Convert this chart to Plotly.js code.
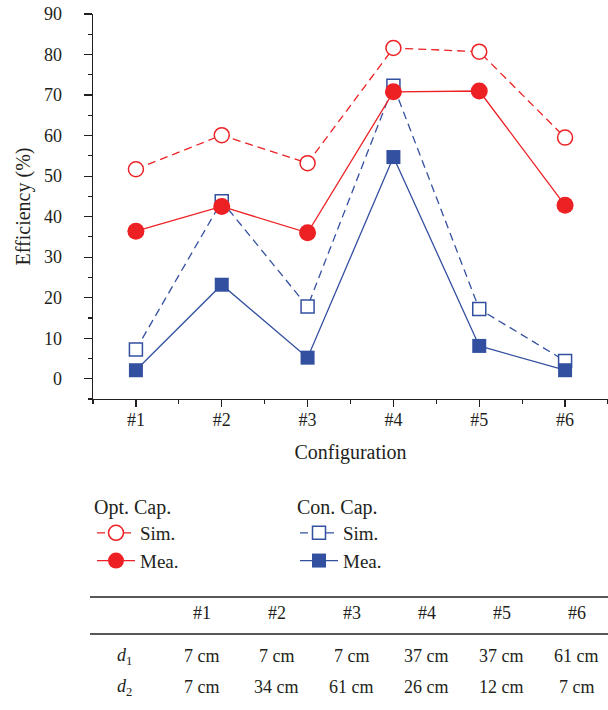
<!DOCTYPE html>
<html><head><meta charset="utf-8">
<script src="https://cdn.plot.ly/plotly-3.0.1.min.js"></script>
<style>html,body{margin:0;padding:0;background:#fff}</style>
</head><body><div id="chart" style="width:608px;height:710px"></div>
<script>
// ---- data ----
const configs = ['#1', '#2', '#3', '#4', '#5', '#6'];
const xPos = [1, 2, 3, 4, 5, 6];
const optSim = [51.7, 60.1, 53.2, 81.6, 80.7, 59.5];
const optMea = [36.4, 42.5, 36.0, 70.8, 71.0, 42.8];
const conSim = [7.2, 43.8, 17.8, 72.3, 17.2, 4.4];
const conMea = [2.1, 23.2, 5.2, 54.7, 8.1, 2.1];
const d1 = [7, 7, 7, 37, 37, 61];
const d2 = [7, 34, 61, 26, 12, 7];
const rowLabels = ['<i>d</i><sub>1</sub>', '<i>d</i><sub>2</sub>'];
const legendNames = ['Sim.', 'Mea.'];
const groupTitles = ['Opt. Cap.', 'Con. Cap.'];

// ---- style ----
const RED = '#ed2024';
const BLUE = '#3350a0';
const INK = '#231f20';
const FONT = 'Liberation Serif';
const W = 608, H = 710;
const px = v => v / W;
const py = v => (H - v) / H;
// table grid geometry (pixels)
const TBL = {left: 90, labelX: 124, col0X: 201.7, colPitch: 75, headY: 613, row0Y: 656, rowPitch: 31, rule1: 597, rule2: 634};

function series(y, color, dashed, filled, size, symbol, legendId, name, group) {
  return {
    type: 'scatter', mode: 'lines+markers', x: xPos, y: y, name: name,
    legend: legendId, legendgroup: group,
    line: {color: color, width: 1.3, dash: dashed ? '8px,5px' : 'solid'},
    marker: {symbol: symbol, size: size, color: filled ? color : '#ffffff',
             line: {color: color, width: filled ? 0 : 1.5}},
    hoverinfo: 'x+y'
  };
}

const traces = [
  series(conSim, BLUE, true, false, 13, 'square', 'legend2', legendNames[0], 'c1'),
  series(conMea, BLUE, false, true, 14, 'square', 'legend2', legendNames[1], 'c2'),
  series(optSim, RED, true, false, 15, 'circle', 'legend', legendNames[0], 'o1'),
  series(optMea, RED, false, true, 17, 'circle', 'legend', legendNames[1], 'o2')
];

// table as text annotations built from the data arrays
const tableFont = {family: FONT, size: 18, color: INK};
const annotations = [];
function cell(text, xpix, ypix) {
  annotations.push({xref: 'paper', yref: 'paper', x: px(xpix), y: py(ypix),
    xanchor: 'center', yanchor: 'middle', showarrow: false, text: text, font: tableFont});
}
configs.forEach((c, i) => cell(c, TBL.col0X + i * TBL.colPitch, TBL.headY));
[d1, d2].forEach((row, r) => {
  const y = TBL.row0Y + r * TBL.rowPitch;
  cell(rowLabels[r], TBL.labelX, y);
  row.forEach((v, i) => cell(v + ' cm', TBL.col0X + i * TBL.colPitch, y));
});

const axisCommon = {
  showline: true, linecolor: INK, linewidth: 1.3, showgrid: false, zeroline: false,
  ticks: 'outside', ticklen: 8, tickwidth: 1.2, tickcolor: INK, automargin: false,
  tickfont: {family: FONT, size: 18, color: INK}
};

const legendCommon = {
  yanchor: 'top', xanchor: 'left', itemwidth: 38, tracegroupgap: 0, bgcolor: 'rgba(0,0,0,0)',
  font: {family: FONT, size: 19, color: INK}
};

const layout = {
  width: W, height: H, margin: {l: 0, r: 0, t: 0, b: 0},
  paper_bgcolor: '#ffffff', plot_bgcolor: '#ffffff',
  font: {family: FONT, size: 18, color: INK},
  showlegend: true,
  xaxis: Object.assign({}, axisCommon, {
    domain: [px(93), 1], range: [0.5, 6.5],
    tickmode: 'array', tickvals: xPos, ticktext: configs, ticklen: 7,
    ticklabelstandoff: -3,
    minor: {tickmode: 'linear', tick0: 0.5, dtick: 0.5, ticks: 'outside', ticklen: 4, tickwidth: 1.2, tickcolor: INK},
    title: {text: 'Configuration', font: {family: FONT, size: 20, color: INK}, standoff: 16}
  }),
  yaxis: Object.assign({}, axisCommon, {
    domain: [py(399), py(14)], range: [-5, 90],
    tickmode: 'linear', tick0: 0, dtick: 10,
    ticklabelstandoff: 18,
    minor: {tickmode: 'linear', tick0: 0, dtick: 5, ticks: 'outside', ticklen: 4, tickwidth: 1.2, tickcolor: INK},
    title: {text: 'Efficiency (%)', font: {family: FONT, size: 20, color: INK}, standoff: 8}
  }),
  legend: Object.assign({}, legendCommon, {
    x: px(92), y: py(488),
    title: {text: groupTitles[0], side: 'top', font: {family: FONT, size: 20, color: INK}}
  }),
  legend2: Object.assign({}, legendCommon, {
    x: px(295), y: py(488),
    title: {text: groupTitles[1], side: 'top', font: {family: FONT, size: 20, color: INK}}
  }),
  annotations: annotations,
  shapes: [TBL.rule1, TBL.rule2].map(yy => ({
    type: 'line', xref: 'paper', yref: 'paper', x0: px(TBL.left), x1: 1, y0: py(yy), y1: py(yy),
    line: {color: INK, width: 1.3}
  }))
};

Plotly.newPlot('chart', traces, layout, {displayModeBar: false, staticPlot: true});
</script>
</body></html>
